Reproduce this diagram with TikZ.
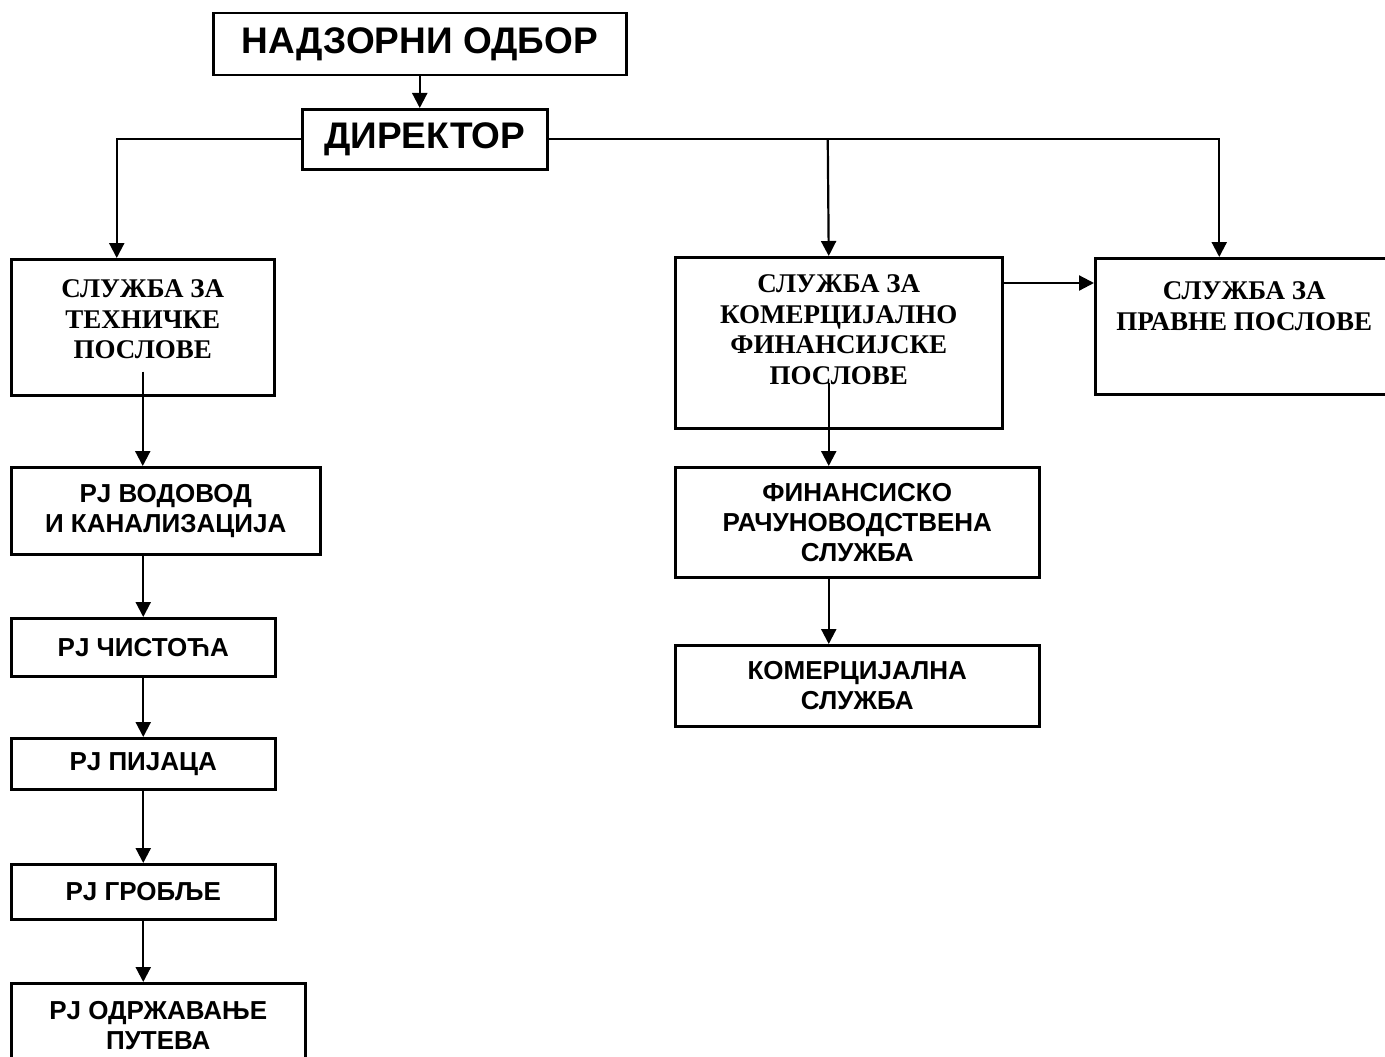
\documentclass[tikz,border=0pt]{standalone}
\usepackage{fontspec}
\setmainfont{Liberation Serif}
\newfontfamily\arialfont{Liberation Sans}
\usetikzlibrary{arrows.meta}

\tikzset{
    box/.style={draw, line width=2.5pt, inner sep=0pt, anchor=north west, align=center},
    sansText/.style={font=\arialfont\bfseries\fontsize{26}{30}\selectfont},
    serifText/.style={font=\bfseries\fontsize{27}{30.5}\selectfont},
    bigText/.style={font=\arialfont\bfseries\fontsize{37}{40}\selectfont},
    arr/.style={line width=2.2pt, -{Triangle[length=15pt,width=15pt]}}
}

\begin{document}
\begin{tikzpicture}[x=1pt, y=-1pt]
        \useasboundingbox (0,0) rectangle (1385,1057);

        % --- Top of the chart ---
        \node[box, bigText, minimum width=413pt, minimum height=62pt] (nadzorBox) at (212,12) {НАДЗОРНИ ОДБОР};
        \node[box, bigText, minimum width=245pt, minimum height=60pt] (direktorBox) at (301,108) {ДИРЕКТОР};
        % ---

        % --- Services ---
        \node[box, serifText, minimum width=263pt, minimum height=136pt, text depth=16pt] (tehBox) at (10,258) {СЛУЖБА ЗА\\ТЕХНИЧКЕ\\ПОСЛОВЕ};
        \node[box, serifText, minimum width=327pt, minimum height=171pt, text depth=26pt] (komFinBox) at (674,256) {СЛУЖБА ЗА\\КОМЕРЦИЈАЛНО\\ФИНАНСИЈСКЕ\\ПОСЛОВЕ};
        \node[box, serifText, minimum width=298pt, minimum height=136pt, text depth=40pt] (pravniBox) at (1094,257) {СЛУЖБА ЗА\\ПРАВНЕ ПОСЛОВЕ};
        % ---

        % --- Left column ---
        \node[box, sansText, minimum width=309pt, minimum height=87pt] (vodovodBox) at (10,466) {PJ ВОДОВОД\\И КАНАЛИЗАЦИЈА};
        \node[box, sansText, minimum width=264pt, minimum height=58pt] (cistocaBox) at (10,617) {PJ ЧИСТОЋА};
        \node[box, sansText, minimum width=264pt, minimum height=51pt] (pijacaBox) at (10,737) {PJ ПИЈАЦА};
        \node[box, sansText, minimum width=264pt, minimum height=55pt] (grobljeBox) at (10,863) {PJ ГРОБЉЕ};
        \node[box, sansText, minimum width=294pt, minimum height=84pt] (putBox) at (10,982) {PJ ОДРЖАВАЊЕ\\ПУТЕВА};
        % ---

        % --- Middle column ---
        \node[box, sansText, minimum width=364pt, minimum height=110pt] (finRacBox) at (674,466) {ФИНАНСИСКО\\РАЧУНОВОДСТВЕНА\\СЛУЖБА};
        \node[box, sansText, minimum width=364pt, minimum height=81pt] (komercBox) at (674,644) {КОМЕРЦИЈАЛНА\\СЛУЖБА};
        % ---

        % --- Connectors ---
        \coordinate (tehIn) at ([xshift=-26pt]tehBox.north);
        \coordinate (pravniIn) at ([xshift=-25pt]pravniBox.north);
        \coordinate (komFinIn) at ([xshift=-10pt]komFinBox.north);
        \coordinate (komFinSplit) at ([xshift=-1pt]komFinIn |- direktorBox.east);
        \coordinate (tehOut) at ([yshift=25pt]tehBox.south);
        \coordinate (komFinOut) at ([yshift=-27pt]komFinBox.north east);
        \coordinate (komFinDown) at ([xshift=-10pt,yshift=47pt]komFinBox.south);

        \draw[arr] (nadzorBox.south) -- (nadzorBox.south |- direktorBox.north);
        \draw[arr] (direktorBox.west) -| (tehIn);
        \draw[arr] (direktorBox.east) -| (pravniIn);
        \draw[arr] (komFinSplit) -- (komFinIn);
        \draw[arr] (komFinOut) -- (komFinOut -| pravniBox.west);

        \draw[arr] (tehOut) -- (tehOut |- vodovodBox.north);
        \draw[arr] (cistocaBox.north |- vodovodBox.south) -- (cistocaBox.north);
        \draw[arr] (cistocaBox.south) -- (pijacaBox.north);
        \draw[arr] (pijacaBox.south) -- (grobljeBox.north);
        \draw[arr] (grobljeBox.south) -- (grobljeBox.south |- putBox.north);

        \draw[arr] (komFinDown) -- (komFinDown |- finRacBox.north);
        \draw[arr] (komFinDown |- finRacBox.south) -- (komFinDown |- komercBox.north);
        % ---
\end{tikzpicture}
\end{document}
